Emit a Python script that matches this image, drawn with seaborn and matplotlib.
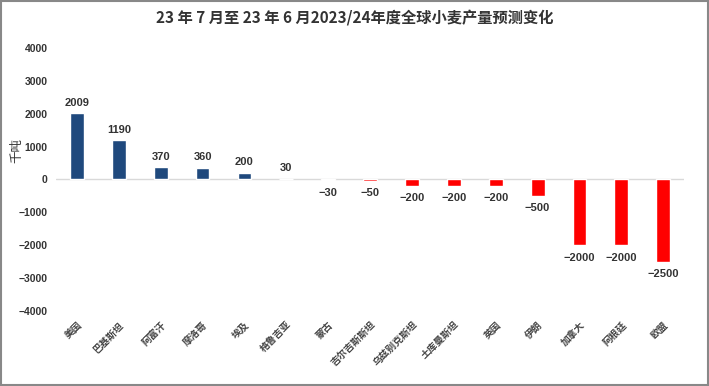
import matplotlib
matplotlib.use('Agg')
import matplotlib.pyplot as plt
import seaborn as sns
import pandas as pd
from matplotlib.patches import Rectangle

# 数据
countries = ['美国', '巴基斯坦', '阿富汗', '摩洛哥', '埃及', '格鲁吉亚', '蒙古', '吉尔吉斯斯坦',
             '乌兹别克斯坦', '土库曼斯坦', '英国', '伊朗', '加拿大', '阿根廷', '欧盟']
changes = [2009, 1190, 370, 360, 200, 30, -30, -50, -200, -200, -200, -500, -2000, -2000, -2500]
yticks = [-4000, -3000, -2000, -1000, 0, 1000, 2000, 3000, 4000]

df = pd.DataFrame({'country': countries, 'change': changes})
colors = ['#1f497d' if v > 0 else '#ff0000' for v in changes]

sns.set_style('white')
plt.rcParams['font.family'] = ['Noto Sans CJK SC', 'DejaVu Sans']
plt.rcParams['axes.unicode_minus'] = False
num_font = ['Liberation Sans', 'DejaVu Sans']

fig = plt.figure(figsize=(7.09, 3.86), dpi=100)
ax = fig.add_axes([0.079, 0.194, 0.886, 0.682])

sns.barplot(data=df, x='country', y='change', hue='country', palette=colors,
            legend=False, width=0.33, ax=ax, saturation=1)

for i, v in enumerate(changes):
    if v >= 0:
        ax.text(i, v + 170, str(v), ha='center', va='bottom', fontsize=8,
                color='#333333', family=num_font, fontweight='bold')
    else:
        ax.text(i, v - 220, '−' + str(-v), ha='center', va='top', fontsize=8,
                color='#333333', family=num_font, fontweight='bold')

ax.axhline(0, color='#d9d9d9', lw=1, zorder=0)
ax.set_ylim(-4000, 4000)
ax.set_xlim(-0.5, len(countries) - 0.5)
ax.set_yticks(yticks)
ax.set_yticklabels([('−' + str(-t)) if t < 0 else str(t) for t in yticks],
                   fontsize=7.5, color='#333333', family=num_font, fontweight='bold')
ax.set_xticks(range(len(countries)))
ax.set_xticklabels(countries, rotation=45, ha='right', rotation_mode='anchor',
                   fontsize=7, color='#444444', fontweight='bold')
ax.tick_params(axis='both', length=0, pad=6)
ax.set_xlabel('')
ax.set_ylabel('')
for s in ax.spines.values():
    s.set_visible(False)

fig.text(0.024, 0.61, '千吨', rotation=90, ha='center', va='center',
         fontsize=9, color='#333333')

fig.suptitle('23 年 7 月至 23 年 6 月2023/24年度全球小麦产量预测变化', x=0.5, y=0.975,
             fontsize=11, color='#333333', fontweight='bold')

# 外框
fig.patches.append(Rectangle((0.002, 0.003), 0.996, 0.994, transform=fig.transFigure,
                             fill=False, edgecolor='#888888', lw=1.5))

fig.savefig('out.png', dpi=100)
